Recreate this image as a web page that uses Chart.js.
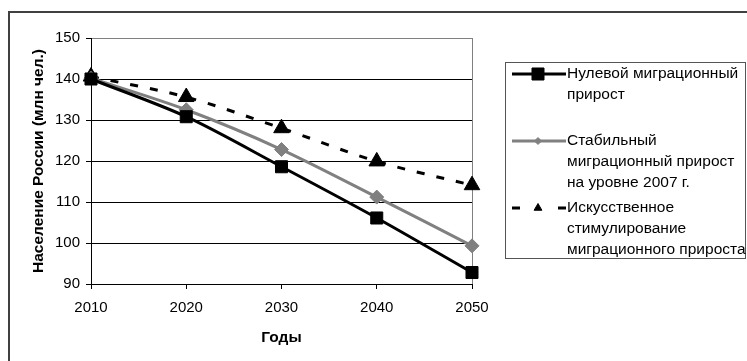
<!DOCTYPE html>
<html lang="ru">
<head>
<meta charset="UTF-8">
<title>Население России</title>
<script src="https://cdn.jsdelivr.net/npm/chart.js"></script>
<style>
    * { padding: 0; margin: 0; }
    body { background: #fff; width: 747px; height: 361px; overflow: hidden; position: relative; }
    .rama {
        position: absolute; left: 8px; top: 11px; width: 780px; height: 400px;
        border-top: 2px solid #404040; border-left: 2px solid #404040;
    }
    #grafik { position: absolute; left: 0; top: 0; }
</style>
</head>
<body>
<div class="rama"></div>
<canvas id="grafik" width="747" height="361"></canvas>
<script>
// годы и три сценария численности (млн чел.)
const gody = ['2010', '2020', '2030', '2040', '2050'];
const nulevoy = [140.0, 130.8, 118.6, 106.1, 92.8];
const stabilny = [140.2, 132.5, 122.8, 111.2, 99.3];
const iskusstv = [140.6, 135.6, 128.0, 119.9, 114.1];
const yTiki = [90, 100, 110, 120, 130, 140, 150];

const nazvaniya = [
    'Нулевой миграционный прирост',
    'Стабильный миграционный прирост на уровне 2007 г.',
    'Искусственное стимулирование миграционного прироста'
];
// как подписи разбиты по строкам в легенде
const podpisi = [
    ['Нулевой миграционный', 'прирост'],
    ['Стабильный', 'миграционный прирост', 'на уровне 2007 г.'],
    ['Искусственное', 'стимулирование', 'миграционного прироста']
];

const shrift = 'Arial, "Liberation Sans", sans-serif';

// легенда справа в рамке
const legenda = {
    id: 'legenda',
    afterDraw(chart) {
        const ctx = chart.ctx;
        const strokiY = [74, 141, 208];
        const markerR = [8.5, 3.5, 4.5];
        ctx.save();
        ctx.strokeStyle = '#555';
        ctx.lineWidth = 1;
        ctx.strokeRect(505.5, 62.5, 240, 196);
        chart.data.datasets.forEach((ds, i) => {
            const y = strokiY[i];
            ctx.strokeStyle = ds.borderColor;
            ctx.lineWidth = ds.borderWidth;
            ctx.beginPath();
            if (ds.borderDash) {
                const d = ds.borderDash[0];
                ctx.moveTo(512, y); ctx.lineTo(512 + d, y);
                ctx.moveTo(566 - d, y); ctx.lineTo(566, y);
            } else {
                ctx.moveTo(512, y); ctx.lineTo(566, y);
            }
            ctx.stroke();
            ctx.fillStyle = ds.pointBackgroundColor;
            ctx.strokeStyle = ds.borderColor;
            ctx.lineWidth = 1;
            Chart.helpers.drawPoint(ctx, { pointStyle: ds.pointStyle, radius: markerR[i], borderWidth: 1, rotation: 0 }, 538, y);
            ctx.fillStyle = '#000';
            ctx.font = '15.5px ' + shrift;
            ctx.textBaseline = 'middle';
            ctx.textAlign = 'left';
            podpisi[i].forEach((s, k) => ctx.fillText(s, 567, y + k * 21));
        });
        ctx.restore();
    }
};

let ctx = document.getElementById('grafik').getContext('2d');
let grafik = new Chart(ctx, {
    type: 'line',
    data: {
        labels: gody,
        datasets: [{
            label: nazvaniya[0],
            data: nulevoy,
            borderColor: '#000',
            backgroundColor: '#000',
            pointBackgroundColor: '#000',
            borderWidth: 3,
            pointStyle: 'rect',
            pointRadius: 8.5,
            pointBorderWidth: 1,
            tension: 0.3
        }, {
            label: nazvaniya[1],
            data: stabilny,
            borderColor: '#808080',
            backgroundColor: '#808080',
            pointBackgroundColor: '#808080',
            borderWidth: 3,
            pointStyle: 'rectRot',
            pointRadius: 7,
            pointBorderWidth: 1,
            tension: 0.3
        }, {
            label: nazvaniya[2],
            data: iskusstv,
            borderColor: '#000',
            backgroundColor: '#000',
            pointBackgroundColor: '#000',
            borderWidth: 3,
            borderDash: [8, 12],
            pointStyle: 'triangle',
            pointRadius: 9,
            pointBorderWidth: 1,
            tension: 0.3
        }]
    },
    options: {
        responsive: false,
        animation: false,
        layout: { padding: { left: 25, top: 38, right: 275, bottom: 10 } },
        plugins: {
            legend: { display: false },
            tooltip: { enabled: false }
        },
        scales: {
            x: {
                type: 'category',
                offset: false,
                grid: {
                    color: c => c.index === gody.length - 1 ? '#808080' : 'rgba(0,0,0,0)',
                    tickColor: '#000',
                    tickLength: 5
                },
                border: { color: '#000', width: 1 },
                ticks: { color: '#000', font: { family: shrift, size: 15 }, padding: 10, maxRotation: 0 },
                title: {
                    display: true, text: 'Годы', color: '#000',
                    font: { family: shrift, size: 15.5, weight: 'bold' },
                    padding: { top: 4, bottom: 4 }
                },
                afterFit: s => { s.height = 67; }
            },
            y: {
                min: 90,
                max: 150,
                afterBuildTicks: s => { s.ticks = yTiki.map(v => ({ value: v })); },
                grid: {
                    color: c => c.tick && c.tick.value === 150 ? '#808080' : '#000',
                    tickColor: '#000',
                    tickLength: 5
                },
                border: { color: '#000', width: 1 },
                ticks: { color: '#000', font: { family: shrift, size: 15 }, padding: 6 },
                title: {
                    display: true, text: 'Население России (млн чел.)', color: '#000',
                    font: { family: shrift, size: 15.5, weight: 'bold' },
                    padding: { top: 4, bottom: 4 }
                },
                afterFit: s => { s.width = 66; }
            }
        }
    },
    plugins: [legenda]
});
</script>
</body>
</html>
